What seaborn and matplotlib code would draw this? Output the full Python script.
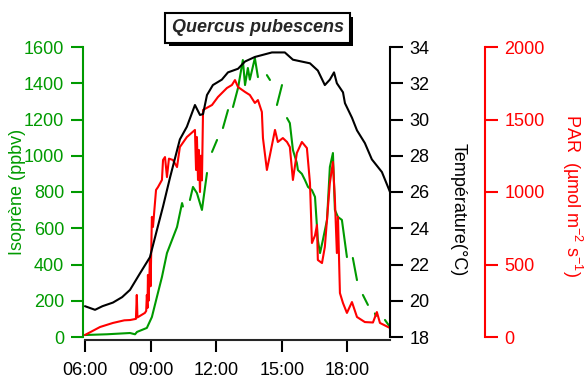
import numpy as np
import pandas as pd
import matplotlib
matplotlib.use("Agg")
import matplotlib.pyplot as plt
import matplotlib.patheffects as pe
import seaborn as sns

# Diurnal course at the Quercus pubescens site; times are decimal hours (local time)
temp_time = [6.00, 6.46, 6.80, 7.28, 7.70, 8.06, 8.51, 8.97, 9.29, 9.57, 9.89, 10.34,
             10.66, 11.03, 11.26, 11.40, 11.58, 11.85, 12.26, 12.54, 13.00, 13.32,
             13.77, 14.55, 15.14, 15.51, 16.29, 16.65, 16.97, 17.20, 17.39, 17.52,
             17.80, 17.89, 18.21, 18.44, 18.80, 19.12, 19.58, 19.85, 19.95]
temp_degc = [19.7, 19.5, 19.7, 19.9, 20.2, 20.6, 21.5, 22.4, 23.9, 25.2, 26.8, 28.9,
             29.6, 30.8, 30.25, 30.3, 31.35, 31.9, 32.2, 32.6, 32.8, 33.2,
             33.45, 33.7, 33.7, 33.3, 33.1, 32.7, 31.9, 32.2, 32.6, 32.0,
             31.5, 30.9, 30.1, 29.4, 28.7, 27.8, 27.1, 26.3, 26.0]

par_time = [6.00, 6.69, 7.28, 7.80, 8.06, 8.33, 8.37, 8.40, 8.74, 8.80, 8.83, 8.86,
            8.88, 8.91, 8.97, 9.00, 9.06, 9.11, 9.25, 9.34, 9.52, 9.57, 9.66, 9.75,
            9.84, 10.02, 10.21, 10.34, 10.66, 11.03, 11.08, 11.12, 11.17, 11.21,
            11.26, 11.30, 11.35, 11.40, 11.81, 12.08, 12.49, 12.72, 12.86, 13.00,
            13.32, 13.54, 13.77, 13.91, 14.09, 14.14, 14.32, 14.46, 14.69, 14.82,
            15.05, 15.24, 15.37, 15.51, 15.69, 15.92, 16.15, 16.29, 16.38, 16.52,
            16.61, 16.65, 16.84, 16.97, 17.20, 17.34, 17.43, 17.52, 17.57, 17.66,
            17.80, 17.98, 18.21, 18.44, 18.80, 19.17, 19.35, 19.49, 19.95]
par_umol = [14, 69, 97, 115, 117, 125, 290, 135, 166, 180, 290, 200,
            428, 250, 531, 350, 828, 759, 1014, 1034, 1083, 1221, 1241, 1103,
            1230, 1221, 1172, 1310, 1379, 1428, 1152, 1379, 1083, 1290,
            1000, 1250, 1080, 1566, 1600, 1655, 1717, 1738, 1772, 1724,
            1690, 1669, 1614, 1634, 1552, 1372, 1152, 1255, 1428, 1345,
            1372, 1345, 1310, 1083, 1269, 1345, 1303, 1062, 648, 700,
            772, 531, 510, 621, 1062, 1207, 950, 579, 828, 303,
            234, 166, 241, 138, 103, 100, 172, 97, 62]

# NaN marks gaps in the isoprene record
iso_time = [6.00, 7.00, 8.06, 8.29, 8.38, 8.83, 9.06, 9.29, 9.52, 9.75, 9.98, 10.21,
            10.44, 10.48, 10.60, 10.80, 10.94, 11.12, 11.35, 11.58, 11.70, 11.81,
            12.04, 12.15, 12.31, 12.54, 12.64, 12.77, 13.00, 13.22, 13.32, 13.45,
            13.54, 13.77, 13.91, 14.10, 14.32, 14.46, 14.60, 14.78, 15.01, 15.10,
            15.24, 15.37, 15.51, 15.69, 15.74, 15.92, 16.06, 16.20, 16.38, 16.52,
            16.65, 16.75, 16.88, 17.07, 17.20, 17.34, 17.43, 17.57, 17.75, 17.98,
            18.10, 18.25, 18.44, 18.60, 18.71, 18.94, 19.10, 19.26, 19.30, 19.50,
            19.72, 19.95]
iso_ppbv = [11, 15, 22, 15, 28, 50, 110, 221, 331, 463, 535, 607,
            739, 720, np.nan, 756, 828, 794, 701, 905, np.nan, 1021,
            1087, np.nan, 1153, 1252, np.nan, 1269, 1374, 1528, 1390, 1484,
            1420, 1539, 1434, np.nan, 1445, 1418, np.nan, 1280, 1390, np.nan,
            1208, 1180, 1032, 960, 921, 900, 866, 828, 810, 773,
            535, 463, 535, 646, 938, 1015, 701, 662, 646, 441,
            np.nan, 436, 314, np.nan, 232, 177, np.nan, 130, 115, np.nan,
            94, 55]

hour_ticks = [6, 9, 12, 15, 18]
hour_labels = ["06:00", "09:00", "12:00", "15:00", "18:00"]
iso_ticks = list(range(0, 1601, 200))
temp_ticks = list(range(18, 35, 2))
par_ticks = list(range(0, 2001, 500))

GREEN = "#009a00"
RED = "#ff0000"
BLACK = "#000000"

sns.set_style("ticks")
plt.rcParams["font.family"] = ["Liberation Sans", "DejaVu Sans"]
plt.rcParams["mathtext.fontset"] = "custom"
plt.rcParams["mathtext.rm"] = "Liberation Sans"
plt.rcParams["mathtext.it"] = "Liberation Sans:italic"
plt.rcParams["font.size"] = 13

W, H = 584, 376
fig = plt.figure(figsize=(W / 100, H / 100), dpi=100)
L, R, T, B = 83, 390, 47, 337
ax = fig.add_axes([L / W, 1 - B / H, (R - L) / W, (B - T) / H])
ax_par = ax.twinx()
ax_temp = ax.twinx()

iso = pd.DataFrame({"time": iso_time, "ppbv": iso_ppbv})
iso["segment"] = iso["ppbv"].isna().cumsum()
iso = iso.dropna()
sns.lineplot(data=iso, x="time", y="ppbv", units="segment", estimator=None,
             color=GREEN, lw=1.5, ax=ax)
sns.lineplot(x=par_time, y=par_umol, estimator=None, color=RED, lw=1.5, ax=ax_par)
sns.lineplot(x=temp_time, y=temp_degc, estimator=None, color=BLACK, lw=1.5, ax=ax_temp)

ax.set_xlim(5.91, 19.95)
ax.set_ylim(0, 1600)
ax_par.set_ylim(0, 2000)
ax_temp.set_ylim(18, 34)

ax.set_xticks(hour_ticks, hour_labels)
ax.set_yticks(iso_ticks)
ax_par.set_yticks(par_ticks)
ax_temp.set_yticks(temp_ticks)
ax.set_xlabel("")

for s in ["top", "right"]:
    ax.spines[s].set_visible(False)
ax.spines["left"].set_color(GREEN)
ax.spines["left"].set_linewidth(1.5)
ax.spines["bottom"].set_linewidth(1.5)
ax.spines["bottom"].set_position(("outward", 2.2))
ax.spines["bottom"].set_bounds(6, 19.95)

for a in (ax_par, ax_temp):
    for s in ["top", "left", "bottom"]:
        a.spines[s].set_visible(False)
    a.spines["right"].set_linewidth(1.5)
ax_par.spines["right"].set_color(RED)
ax_par.spines["right"].set_position(("axes", (485 - L) / (R - L)))
ax_temp.spines["right"].set_color(BLACK)

ax.tick_params(axis="y", colors=GREEN, length=8.5, width=1.5, pad=5, labelsize=13)
ax.tick_params(axis="x", colors=BLACK, length=8.5, width=1.5, pad=7, labelsize=13)
ax_par.tick_params(axis="y", colors=RED, length=9, width=1.5, pad=5, labelsize=13)
ax_temp.tick_params(axis="y", colors=BLACK, length=9, width=1.5, pad=5, labelsize=13)

ax.set_ylabel("Isoprène (ppbv)", color=GREEN, fontsize=13, ha="center", va="center")
ax.yaxis.set_label_coords((18 - L) / (R - L), 0.5)
ax_temp.set_ylabel("Température(°C)", color=BLACK, fontsize=13, rotation=270,
                   ha="center", va="center")
ax_temp.yaxis.set_label_coords((458 - L) / (R - L), 0.438)
ax_par.set_ylabel("PAR  (µmol m$^{-2}$ s$^{-1}$)", color=RED, fontsize=13, rotation=270,
                  ha="center", va="center")
ax_par.yaxis.set_label_coords((572 - L) / (R - L), 0.486)

title = fig.text(257.5 / W, 1 - 28 / H, "Quercus pubescens", ha="center", va="center",
                 fontsize=13, fontweight="bold", fontstyle="italic",
                 bbox=dict(boxstyle="square,pad=0.35", fc="white", ec="black", lw=1.5))
title.get_bbox_patch().set_path_effects([
    pe.SimplePatchShadow(offset=(2.5, -2.5), shadow_rgbFace="black", alpha=1.0),
    pe.Normal(),
])

fig.savefig("out.png", dpi=100)
